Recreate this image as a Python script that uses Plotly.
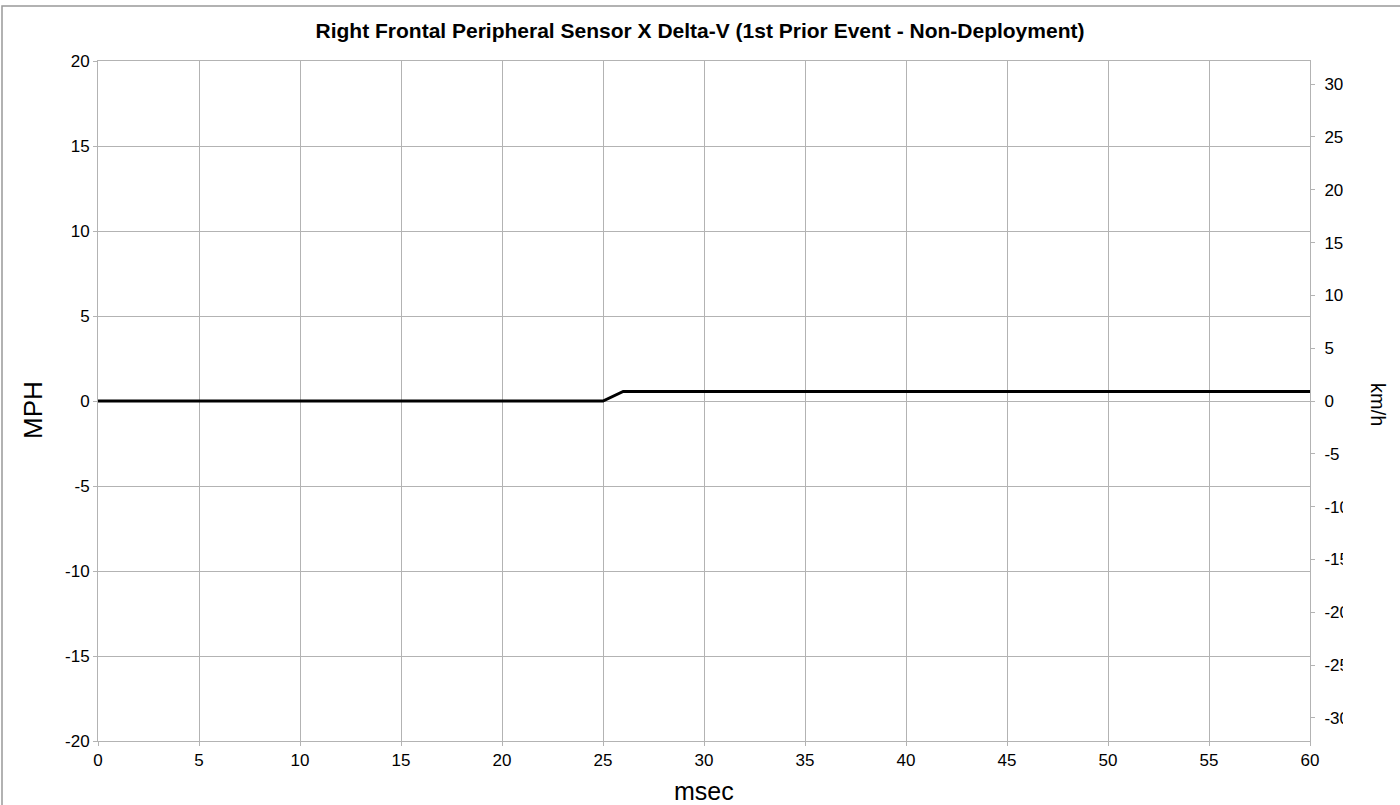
import plotly.graph_objects as go

# Delta-V samples, one per millisecond
time_ms = list(range(0, 61))
delta_v_mph = [0.0] * 26 + [0.56] * 35

MPH_TO_KMH = 1.609344
mph_range = [-20, 20]
kmh_range = [v * MPH_TO_KMH for v in mph_range]

x_ticks = list(range(0, 61, 5))
mph_ticks = list(range(-20, 21, 5))
kmh_ticks = list(range(-30, 31, 5))

title_text = "Right Frontal Peripheral Sensor X Delta-V (1st Prior Event - Non-Deployment)"
grid = "#b3b3b3"
font_family = "Liberation Sans, Arial, sans-serif"

W, H = 1400, 805
L, R, T, B = 98, 90, 61, 64
pw, ph = W - L - R, H - T - B


def px_x(x):
    return (x - L) / pw


def px_y(y):
    return (H - B - y) / ph


fig = go.Figure()
fig.add_trace(go.Scatter(
    x=time_ms, y=delta_v_mph, mode="lines",
    line=dict(color="black", width=3), showlegend=False, hoverinfo="x+y",
))
# invisible trace to activate the km/h axis
fig.add_trace(go.Scatter(
    x=[time_ms[0]], y=[0], yaxis="y2", mode="lines",
    line=dict(width=0), showlegend=False, hoverinfo="skip",
))

fig.update_layout(
    width=W, height=H,
    margin=dict(l=L, r=R, t=T, b=B),
    paper_bgcolor="white", plot_bgcolor="white",
    font=dict(family=font_family, color="black", size=17),
    title=dict(text="<b>" + title_text + "</b>", x=0.5, xanchor="center",
               y=1 - 31 / H, yanchor="middle", font=dict(size=21)),
    xaxis=dict(
        range=[0, 60], tickvals=x_ticks, ticktext=[str(v) for v in x_ticks],
        showgrid=True, gridcolor=grid, gridwidth=1,
        showline=True, linecolor=grid, linewidth=1, mirror=True,
        ticks="outside", ticklen=4, tickcolor=grid,
        zeroline=False,
    ),
    yaxis=dict(
        range=mph_range, tickvals=mph_ticks, ticktext=[str(v) for v in mph_ticks],
        showgrid=True, gridcolor=grid, gridwidth=1,
        showline=True, linecolor=grid, linewidth=1, mirror=True,
        ticks="outside", ticklen=4, tickcolor=grid,
        zeroline=False,
    ),
    yaxis2=dict(
        range=kmh_range, tickvals=kmh_ticks, ticktext=[str(v) for v in kmh_ticks],
        overlaying="y", side="right",
        showgrid=False, showline=True, linecolor=grid, linewidth=1,
        ticks="outside", ticklen=4, tickcolor=grid, ticklabelstandoff=6,
        zeroline=False,
    ),
    annotations=[
        dict(text="msec", xref="paper", yref="paper", x=0.5, y=px_y(791),
             xanchor="center", yanchor="middle", showarrow=False,
             font=dict(size=25)),
        dict(text="MPH", xref="paper", yref="paper", x=px_x(33), y=px_y(410),
             xanchor="center", yanchor="middle", showarrow=False,
             textangle=-90, font=dict(size=26)),
        dict(text="km/h", xref="paper", yref="paper", x=px_x(1378), y=px_y(405),
             xanchor="center", yanchor="middle", showarrow=False,
             textangle=90, font=dict(size=20)),
    ],
    shapes=[
        # outer chart frame
        dict(type="rect", xref="paper", yref="paper",
             x0=px_x(2), x1=px_x(1420), y0=px_y(830), y1=px_y(6),
             line=dict(color="#999999", width=1.5), fillcolor="rgba(0,0,0,0)",
             layer="below"),
        # right label column is clipped at a fixed width
        dict(type="rect", xref="paper", yref="paper",
             x0=px_x(1343), x1=px_x(1364), y0=px_y(748), y1=px_y(60),
             line=dict(width=0), fillcolor="white", layer="above"),
    ],
)

fig.write_html("out.html")
